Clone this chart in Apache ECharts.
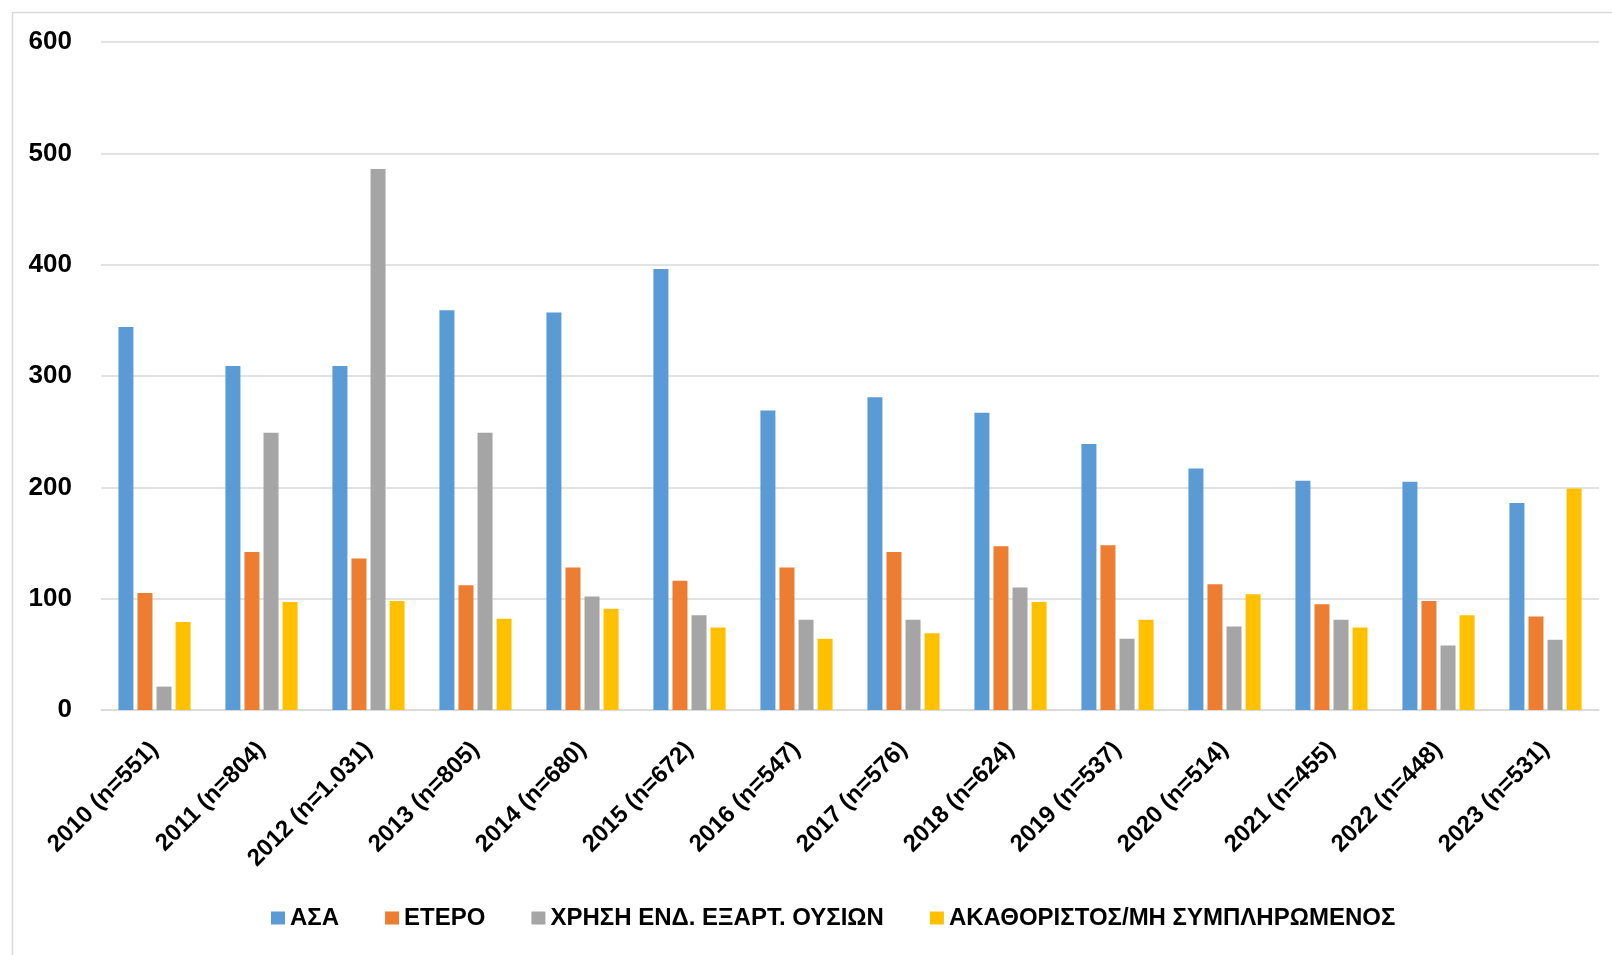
<!DOCTYPE html>
<html>
<head>
<meta charset="utf-8">
<script src="https://cdn.jsdelivr.net/npm/echarts@6/dist/echarts.min.js"></script>
<style>
  html, body { margin: 0; padding: 0; background: #fff; }
  #chart { width: 1612px; height: 955px; }
</style>
</head>
<body>
<div id="chart"></div>
<script>
// Year labels with sample sizes
const categories = [
  '2010 (n=551)', '2011 (n=804)', '2012 (n=1.031)', '2013 (n=805)',
  '2014 (n=680)', '2015 (n=672)', '2016 (n=547)', '2017 (n=576)',
  '2018 (n=624)', '2019 (n=537)', '2020 (n=514)', '2021 (n=455)',
  '2022 (n=448)', '2023 (n=531)'
];

// Series names
const seriesNames = ['ΑΣΑ', 'ΕΤΕΡΟ', 'ΧΡΗΣΗ ΕΝΔ. ΕΞΑΡΤ. ΟΥΣΙΩΝ', 'ΑΚΑΘΟΡΙΣΤΟΣ/ΜΗ ΣΥΜΠΛΗΡΩΜΕΝΟΣ'];

// Counts per year
const asa    = [344, 309, 309, 359, 357, 396, 269, 281, 267, 239, 217, 206, 205, 186];
const etero  = [105, 142, 136, 112, 128, 116, 128, 142, 147, 148, 113,  95,  98,  84];
const xrisi  = [ 21, 249, 486, 249, 102,  85,  81,  81, 110,  64,  75,  81,  58,  63];
const akath  = [ 79,  97,  98,  82,  91,  74,  64,  69,  97,  81, 104,  74,  85, 199];

// Y axis ticks
const yTicks = [0, 100, 200, 300, 400, 500, 600];

const colors = ['#5B9BD5', '#ED7D31', '#A5A5A5', '#FFC000'];
const values = [asa, etero, xrisi, akath];
const fontFamily = '"Liberation Sans", Arial, sans-serif';

const chart = echarts.init(document.getElementById('chart'), null, { renderer: 'canvas' });

chart.setOption({
  animation: false,
  backgroundColor: '#ffffff',
  color: colors,
  graphic: [{
    type: 'rect',
    left: 10, top: 10,
    shape: { width: 1640, height: 980 },
    style: { fill: 'none', stroke: '#d9d9d9', lineWidth: 1.5 },
    silent: true,
    z: -1
  }],
  grid: { left: 101, right: 13, top: 42, bottom: 245, containLabel: false },
  legend: {
    data: seriesNames,
    left: 266,
    top: 901,
    icon: 'rect',
    itemWidth: 14,
    itemHeight: 13,
    itemGap: 46,
    textStyle: { color: '#000', fontSize: 24, fontWeight: 'bold', fontFamily: fontFamily }
  },
  xAxis: {
    type: 'category',
    data: categories,
    axisLine: { show: true, lineStyle: { color: '#d9d9d9', width: 1.5 } },
    axisTick: { show: false },
    axisLabel: {
      rotate: 45,
      interval: 0,
      margin: 36,
      color: '#000',
      fontSize: 24,
      fontWeight: 'bold',
      fontFamily: fontFamily
    }
  },
  yAxis: {
    type: 'value',
    min: yTicks[0],
    max: yTicks[yTicks.length - 1],
    interval: 100,
    axisLine: { show: false },
    axisTick: { show: false },
    splitLine: { lineStyle: { color: '#d9d9d9', width: 1.5 } },
    axisLabel: {
      margin: 29,
      color: '#000',
      fontSize: 26,
      fontWeight: 'bold',
      fontFamily: fontFamily
    }
  },
  series: seriesNames.map((name, i) => ({
    name: name,
    type: 'bar',
    data: values[i],
    barWidth: 15,
    barGap: '27%',
    itemStyle: { color: colors[i] }
  }))
});
</script>
</body>
</html>
